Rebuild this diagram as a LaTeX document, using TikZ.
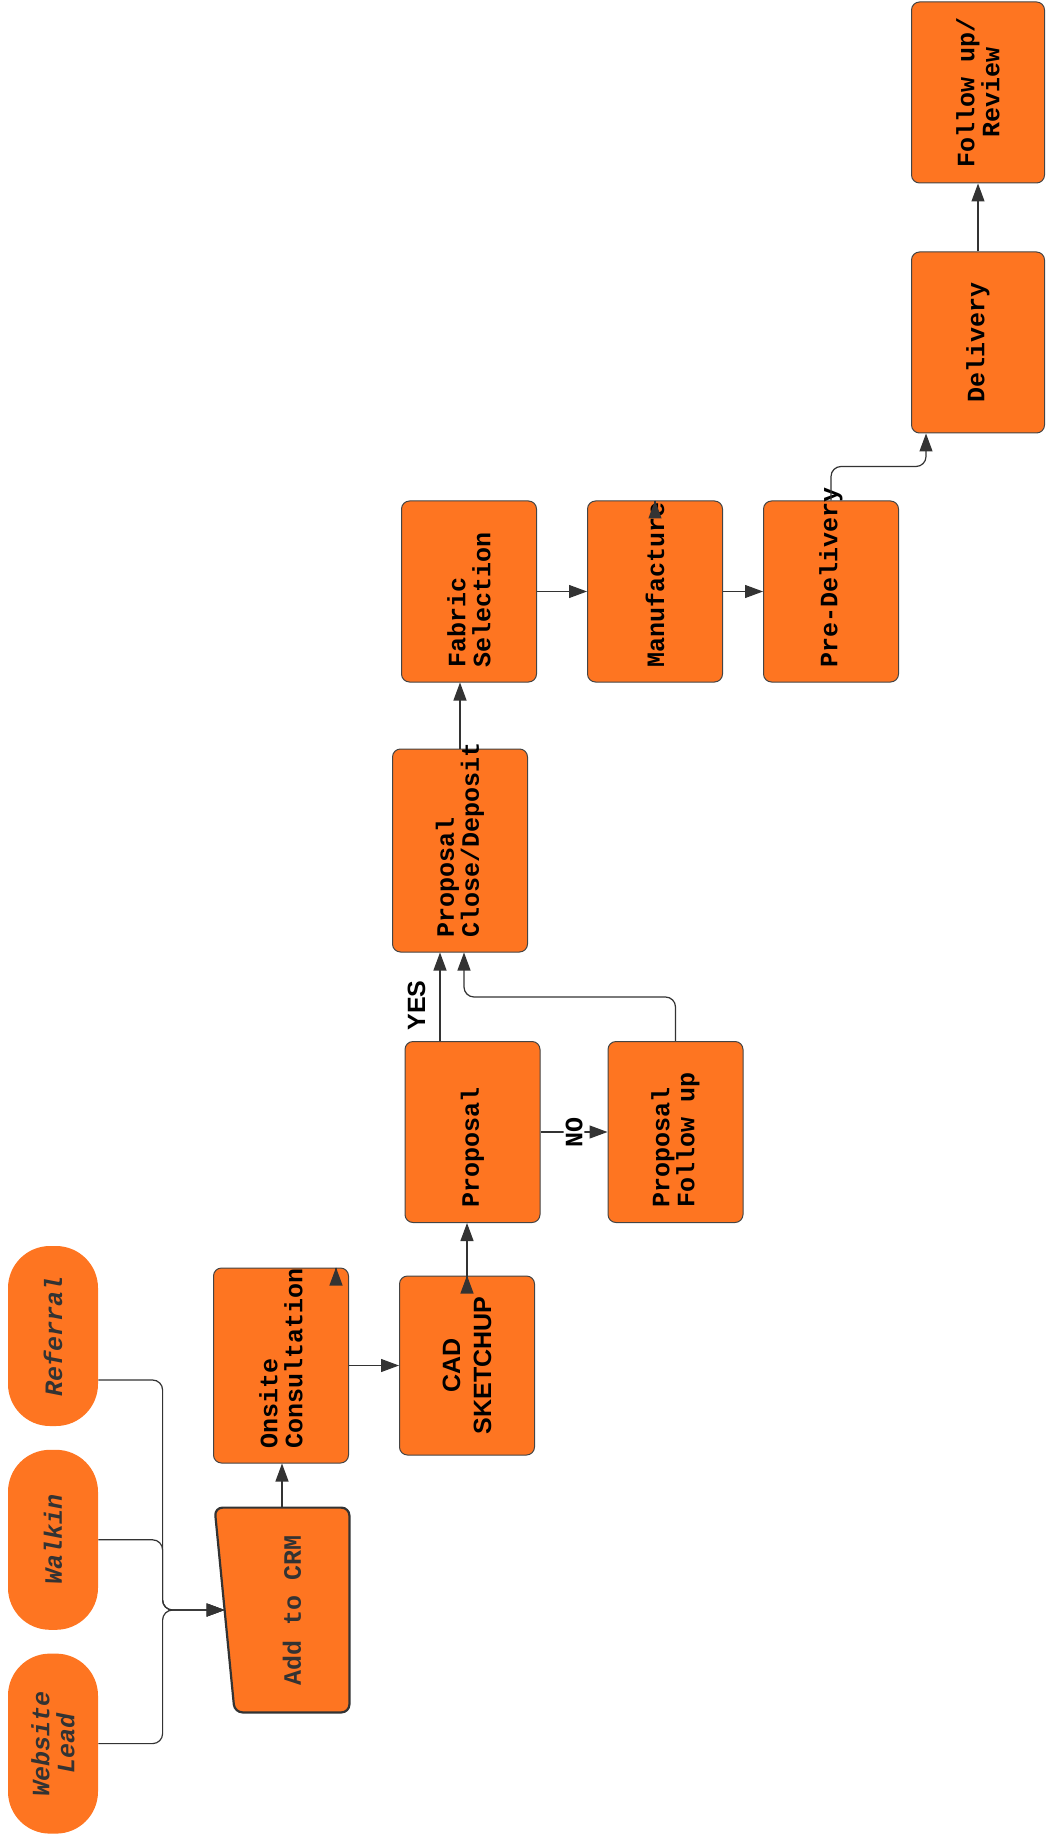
\documentclass[tikz,border=0pt]{standalone}
\usepackage{fontspec}
\setmonofont{Liberation Mono}
\setsansfont{Liberation Sans}
\usetikzlibrary{positioning,arrows.meta,backgrounds}

\definecolor{lucidorange}{HTML}{FE7521}
\definecolor{inkgrey}{HTML}{333333}
\definecolor{edgegrey}{HTML}{444444}

\newcommand{\labelsize}{\fontsize{12.5pt}{12.5pt}\selectfont}
\newcommand{\sidetext}[3][\raggedright]{\rotatebox{90}{\begin{minipage}{#2}#1\hyphenpenalty=10000 \exhyphenpenalty=10000 #3\end{minipage}}}

\begin{document}
\begin{tikzpicture}[x=0.5pt, y=-0.5pt,
        process/.style={rectangle, rounded corners=4pt, draw=edgegrey, fill=lucidorange, line width=0.5pt, minimum width=67.5pt, minimum height=90.5pt, inner sep=0pt, font=\labelsize\ttfamily\bfseries},
        source/.style={rectangle, rounded corners=21pt, fill=lucidorange, minimum width=45pt, minimum height=90pt, inner sep=0pt, text=inkgrey, font=\labelsize\ttfamily\bfseries\itshape},
        flow/.style={-{Triangle[length=9pt, width=6.5pt]}, draw=inkgrey, line width=0.6pt, rounded corners=5pt},
        answer/.style={rotate=90, inner sep=1pt, font=\labelsize\sffamily\bfseries},
    ]
    \useasboundingbox (0,0) rectangle (1045,1839);

    \node[source] (referral) at (53,1336) {\rotatebox{90}{Referral}};
    \node[source] (walkin) [below=11.5pt of referral] {\rotatebox{90}{Walkin}};
    \node[source] (website) [below=11.5pt of walkin] {\sidetext[\centering]{80pt}{Website\\Lead}};

    \node[inner sep=0pt, minimum width=67pt, minimum height=102pt, text=inkgrey, font=\labelsize\ttfamily\bfseries] (crm) at (282,1610) {\hspace{10pt}\rotatebox{90}{Add to CRM}};
    \begin{scope}[on background layer]
        \draw[draw=inkgrey, fill=lucidorange, line width=1.1pt, rounded corners=4pt] (crm.north west) -- (crm.north east) -- (crm.south east) -- ([xshift=10pt]crm.south west) -- cycle;
    \end{scope}

    \node[process, minimum height=97.5pt] (onsite) at (281,1365.5) {\sidetext{82.5pt}{Onsite\\Consultation}};
    \node[process, minimum height=89.5pt, font=\labelsize\sffamily\bfseries] (cad) [right=25pt of onsite] {\sidetext[\centering\fontsize{12.5pt}{15.5pt}\selectfont]{75pt}{CAD\\SKETCHUP}};
    \node[process] (proposal) at (472.5,1132) {\sidetext{75.5pt}{Proposal}};
    \node[process] (followup) [right=33.5pt of proposal] {\sidetext{75.5pt}{Proposal\\Follow up}};
    \node[process, minimum height=101.5pt] (close) at (460,850.5) {\sidetext{86.5pt}{Proposal\\Close/Deposit}};
    \node[process] (fabric) at (469,591.5) {\sidetext{75.5pt}{Fabric\\Selection}};
    \node[process] (manufacture) [right=25pt of fabric] {\sidetext{75.5pt}{Manufacture}};
    \node[process] (predelivery) [right=20pt of manufacture] {\sidetext{75.5pt}{Pre-Delivery}};
    \node[process, minimum width=66.5pt] (delivery) at (978,342.5) {\sidetext[\centering]{75.5pt}{Delivery}};
    \node[process, minimum width=66.5pt] (review) [above=34pt of delivery] {\sidetext[\centering]{75.5pt}{Follow up/\\Review}};

    \coordinate (merge) at ([xshift=-26pt]crm.west);
    \coordinate (crmin) at ([xshift=5pt]crm.west);
    \draw[flow] ([yshift=-22pt]referral.east) -| (merge) -- (crmin);
    \draw[flow] (walkin.east) -| (merge) -- (crmin);
    \draw[flow] (website.east) -| (merge) -- (crmin);

    \draw[flow] (crm.north) -- (crm.north |- onsite.south);
    \draw[flow] (onsite.east) -- (cad.west);
    \draw[flow] (cad.north) -- (cad.north |- proposal.south);
    \draw[flow] ([xshift=-16.25pt]proposal.north) -- ([xshift=-16.25pt]proposal.north |- close.south) node[answer, pos=0.4, anchor=south, inner sep=7pt] {YES};
    \draw[flow] (proposal.east) -- (followup.west) node[answer, midway, fill=white, font=\labelsize\ttfamily\bfseries] {NO};
    \draw[flow] (followup.north) -- ++(0,-44) -| ([xshift=2pt]close.south);
    \draw[flow] (close.north) -- (close.north |- fabric.south);
    \draw[flow] (fabric.east) -- (manufacture.west);
    \draw[flow] (manufacture.east) -- (predelivery.west);
    \draw[flow] (predelivery.north) -- ++(0,-34) -| ([xshift=-26pt]delivery.south);
    \draw[flow] (delivery.north) -- (review.south);

    \draw[flow] ([shift={(-6.5pt,-0.1pt)}]onsite.north east) -- ([xshift=-6.5pt]onsite.north east);
    \draw[flow] ([yshift=-0.1pt]cad.north) -- (cad.north);
    \draw[flow] ([yshift=-0.1pt]manufacture.north) -- (manufacture.north);
\end{tikzpicture}
\end{document}
